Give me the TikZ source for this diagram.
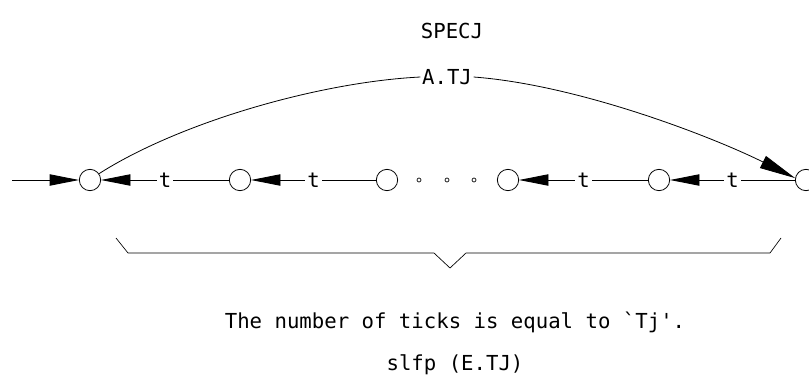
\documentclass[tikz,border=0pt]{standalone}
\usepackage{fontspec}
\setmonofont{DejaVu Sans Mono}
\usetikzlibrary{arrows.meta}
\begin{document}
\begin{tikzpicture}[x=0.75pt,y=-0.75pt,
  line width=0.6pt,
  state/.style={circle,draw,minimum size=16pt,inner sep=0pt},
  dotmark/.style={circle,draw,minimum size=3pt,inner sep=0pt,line width=0.5pt},
  tip/.style={-{Triangle[length=22pt,width=8.5pt]}},
  bigtip/.style={-{Triangle[length=27pt,width=10pt]}},
  tick/.style={fill=white,inner sep=1.5pt,font=\ttfamily\fontsize{15.5}{18}\selectfont},
  caption/.style={font=\ttfamily\fontsize{15.5}{18}\selectfont}]
\useasboundingbox (0,0) rectangle (809,382);
\clip (0,0) rectangle (809,382);

% title
\node[caption] (title) at (452,31) {SPECJ};

% chain of states
\coordinate (in) at (12,180);
\node[state] (c1) at (90,180) {};
\node[state] (c2) at (240,180) {};
\node[state] (c3) at (387,180) {};
\node[dotmark] (d1) at (419,180) {};
\node[dotmark] (d2) at (447,180) {};
\node[dotmark] (d3) at (474,180) {};
\node[state] (c4) at (508,180) {};
\node[state] (c5) at (659,180) {};
\node[state] (c6) at (806,180) {};

\draw[tip] (in) -- (c1);
\draw[tip] (c2) -- node[tick] {t} (c1);
\draw[tip] (c3) -- node[tick] {t} (c2);
\draw[tip] (c5) -- node[tick] {t} (c4);
\draw[tip] (c6) -- node[tick] {t} (c5);

% long arc over the chain
\node[caption,inner sep=1pt] (atj) at (447,77) {A.TJ};
\draw (c1.35) .. controls (180,122) and (320,82) .. (atj.west);
\draw[bigtip] (atj.east) .. controls (580,85) and (715,138) .. (c6.170);

% brace under the chain
\coordinate (b1) at (116,238);
\coordinate (b2) at (128,253);
\coordinate (b3) at (434,253);
\coordinate (b4) at (450,268);
\coordinate (b5) at (466,253);
\coordinate (b6) at (770,253);
\coordinate (b7) at (781,238);
\draw[line width=0.5pt] (b1) -- (b2) -- (b3) -- (b4) -- (b5) -- (b6) -- (b7);

% captions
\node[caption] (note) at (455,322) {The number of ticks is equal to `Tj'.};
\node[caption] (slfp) at (455,365) {slfp (E.TJ)};
\end{tikzpicture}
\end{document}
